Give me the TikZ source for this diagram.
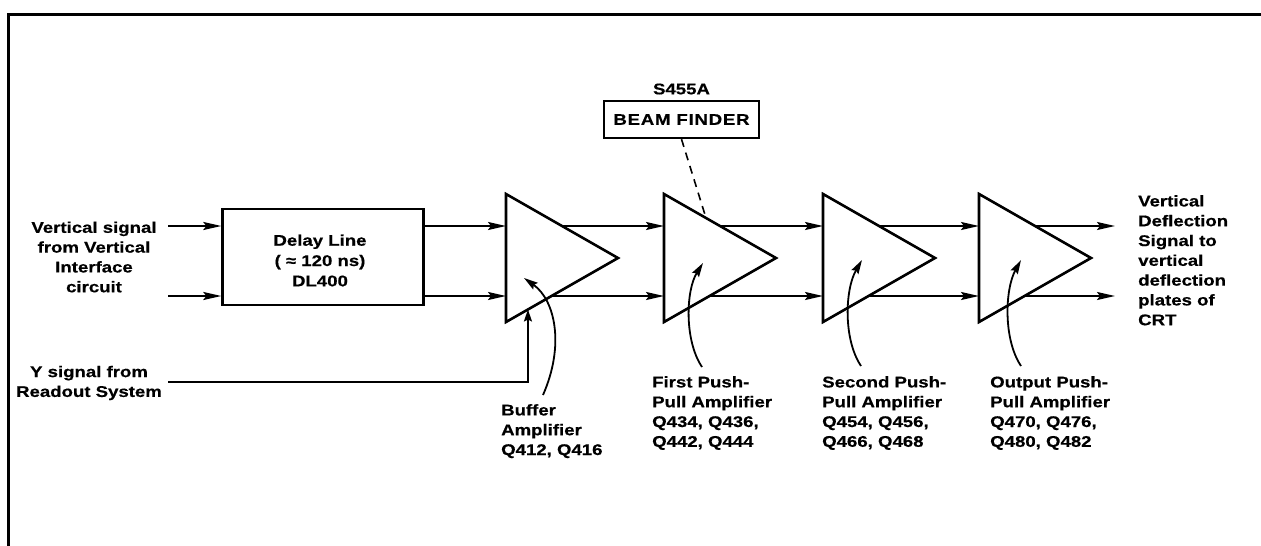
\documentclass[tikz,border=0pt]{standalone}
\usepackage{fontspec}
\setmainfont{Liberation Sans}[FakeStretch=1.2,FakeBold=0.5]
\usetikzlibrary{arrows.meta,calc}
\begin{document}
\begin{tikzpicture}[x=1pt,y=-1pt,
  lbl/.style={font=\bfseries\fontsize{15.5}{19.8}\selectfont, inner sep=0pt},
  sig/.style={line width=2pt},
  arr/.style={sig,-{Stealth[length=18pt,width=8pt,inset=3pt]}},
  carr/.style={line width=1.8pt,-{Stealth[length=14pt,width=8pt,inset=2pt]}},
  yarr/.style={sig,-{Stealth[length=12pt,width=8pt,inset=2pt]}},
  amp/.style={line width=2.6pt,line join=miter},
  boxed/.style={draw,line width=2.4pt,inner sep=0pt},
  dashln/.style={line width=1.6pt,dash pattern=on 8pt off 6pt}]
\useasboundingbox (0,0) rectangle (1261,546);
% frame
\draw[line width=3pt] (1261,14) -- (8,14) -- (8,546);

% input text and lines
\node[lbl,align=center] (vin) at (94,257) {Vertical signal\\from Vertical\\Interface\\circuit};
\coordinate (in1) at (168,226);
\coordinate (in2) at (168,296);

% delay line
\node[boxed,minimum width=201pt,minimum height=96pt] (delay) at (323,257) {};
\node[lbl,align=center,font=\bfseries\fontsize{15.5}{20.3}\selectfont] (dtext) at (320,260.5) {Delay Line\\( ≈ 120 ns)\\DL400};
\draw[arr] (in1) -- (in1 -| delay.west);
\draw[arr] (in2) -- (in2 -| delay.west);

% amplifiers
\foreach \i/\L in {1/506,2/664,3/823,4/979}{
  \coordinate (a\i) at (\L,194);
  \coordinate (b\i) at (\L,322);
  \coordinate (t\i) at (\L+112,258);
  \coordinate (u\i) at ($(a\i)!0.5!(t\i)$);
  \coordinate (v\i) at ($(b\i)!0.40625!(t\i)$);
  \draw[amp] (a\i) -- (t\i) -- (b\i) -- cycle;
}
\draw[arr] (delay.east |- in1) -- (in1 -| a1);
\draw[arr] (delay.east |- in2) -- (in2 -| a1);
\foreach \i/\j in {1/2,2/3,3/4}{
  \draw[arr] (u\i) -- (u\i -| a\j);
  \draw[arr] (v\i) -- (v\i -| a\j);
}
\coordinate (o1) at (1115,226);
\coordinate (o2) at (1115,296);
\draw[arr] (u4) -- (o1);
\draw[arr] (v4) -- (o2);

% output text
\node[lbl,align=left,anchor=north west] (vout) at (1138,195) {Vertical\\Deflection\\Signal to\\vertical\\deflection\\plates of\\CRT};

% Y signal
\node[lbl,align=center] (ytext) at (89,383) {Y signal from\\Readout System};
\coordinate (ys) at (168,382);
\coordinate (yin) at ($(b1)!0.196!(t1)$);
\draw[yarr] (ys) -| (yin);

% beam finder
\node[boxed,lbl,minimum width=155pt,minimum height=37pt] (beam) at (681.5,119.5) {\addfontfeatures{LetterSpace=5}BEAM FINDER};
\node[lbl] (s455) at (681.5,89) {S455A};
\coordinate (bf) at ($(a2)!0.375!(t2)$);
\draw[dashln] (beam.south) -- (bf);

% labels
\node[lbl,align=left,anchor=north west] (lbuf) at (501,404) {Buffer\\Amplifier\\Q412, Q416};
\node[lbl,align=left,anchor=north west] (lfirst) at (652,376) {First Push-\\Pull Amplifier\\Q434, Q436,\\Q442, Q444};
\node[lbl,align=left,anchor=north west] (lsecond) at (822,376) {Second Push-\\Pull Amplifier\\Q454, Q456,\\Q466, Q468};
\node[lbl,align=left,anchor=north west] (lout) at (990,376) {Output Push-\\Pull Amplifier\\Q470, Q476,\\Q480, Q482};

% pointer curves
\coordinate (c0s) at (543,395); \coordinate (c0e) at (524,278);
\draw[carr] (c0s) .. controls (565,345) and (555,300) .. (c0e);
\coordinate (c1s) at (702,367); \coordinate (c1e) at (703,263);
\draw[carr] (c1s) .. controls (684,340) and (686,290) .. (c1e);
\coordinate (c2s) at (861,366); \coordinate (c2e) at (862,260);
\draw[carr] (c2s) .. controls (843,339) and (845,289) .. (c2e);
\coordinate (c3s) at (1021,366); \coordinate (c3e) at (1021,260);
\draw[carr] (c3s) .. controls (1003,339) and (1005,289) .. (c3e);
\end{tikzpicture}
\end{document}
